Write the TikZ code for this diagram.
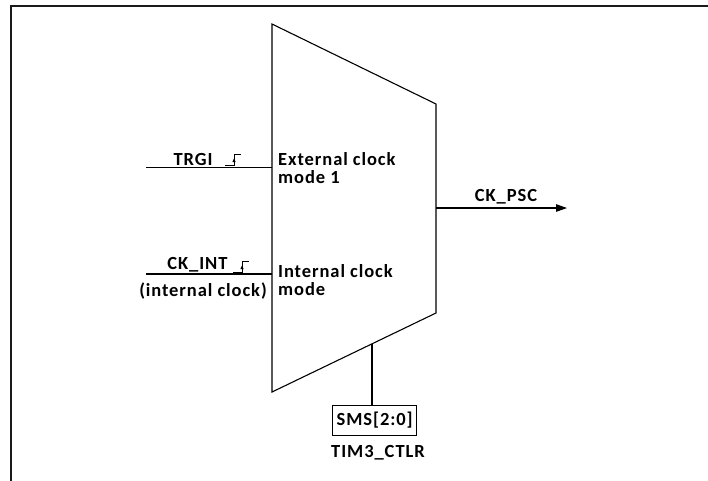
\documentclass[tikz,border=0pt]{standalone}
\usepackage{fontspec}
\setmainfont{Carlito}[LetterSpace=5]
\usepackage{xcolor}
\usepackage{tikz}
\usetikzlibrary{arrows.meta,positioning,calc}
\definecolor{ckInk}{HTML}{000000}
\definecolor{ckFrame}{HTML}{1A1A1A}
\tikzset{
  lbl/.style={font=\fontsize{18.5}{18}\selectfont\bfseries,text=ckInk,inner sep=0pt,anchor=base},
  lblblk/.style={lbl,align=left,anchor=base west},
  regbox/.style={rectangle,draw=ckInk,line width=1pt,
    font=\fontsize{18.5}{18}\selectfont\bfseries,inner sep=0pt,
    minimum width=84pt,minimum height=30pt},
  wire/.style={draw=ckInk,line width=1.1pt},
  arr/.style={-{Triangle[length=11pt,width=7.5pt]},line width=1.1pt,draw=ckInk},
  edgemark/.style={draw=ckInk,line width=0.9pt},
}

\begin{document}
\begin{tikzpicture}[x=1pt,y=-1pt]
  \useasboundingbox (0,0) rectangle (708,480);

  % outer frame (cut at right and bottom)
  \draw[ckFrame,line width=1.6pt] (11,490) -- (11,6) -- (720,6);

  % multiplexer outline
  \coordinate (mtl) at (272,24);
  \coordinate (mbl) at (272,392);
  \coordinate (mtr) at (436,104);
  \coordinate (mbr) at (436,313);
  \draw[wire] (mtl) -- (mtr) -- (mbr) -- (mbl) -- cycle;

  % inputs
  \coordinate (trgi) at (146,167.5);
  \coordinate (ckint) at (146,274);
  \draw[wire] (trgi) -- (trgi -| mtl);
  \draw[wire] (ckint) -- (ckint -| mtl);

  \node[lbl] (trgilbl) at (193,165) {TRGI};
  \node[lbl] (ckintlbl) at (197.5,269.5) {CK\_INT};
  \node[lbl] (intclk) at (203,296) {(internal clock)};

  % rising edge marks
  \coordinate (edge1) at (234,165);
  \coordinate (edge2) at (242,272);
  \foreach \e in {edge1,edge2}{
    \draw[edgemark] ($(\e)+(-9,0)$) -- (\e) -- ($(\e)+(0,-11)$) -- ($(\e)+(7,-11)$);
    \draw[edgemark,-{Latex[length=4pt,width=3.5pt]}] (\e) -- ($(\e)+(0,-7)$);
  }

  % mode labels
  \node[lblblk] (extmode) at (278,183) {External clock\\mode 1};
  \node[lblblk] (intmode) at (278,295.5) {Internal clock\\mode};

  % output
  \coordinate (ckpsc) at (567,208);
  \draw[arr] (ckpsc -| mtr) -- (ckpsc);
  \node[lbl] (ckpsclbl) at (506,201.5) {CK\_PSC};

  % mode select
  \node[regbox] (sms) at (374.7,420) {SMS[2:0]};
  \node[lbl] (ctlr) at (378,457.5) {TIM3\_CTLR};
  \coordinate (stem) at ($(mbl)!{(372-272)/164}!(mbr)$);
  \draw[wire] (stem) -- (stem |- sms.north);

\end{tikzpicture}
\end{document}
